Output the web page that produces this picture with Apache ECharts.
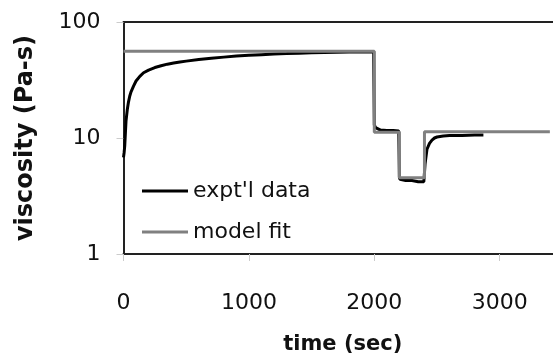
<!DOCTYPE html>
<html>
<head>
<meta charset="utf-8">
<script src="https://cdn.jsdelivr.net/npm/echarts@6/dist/echarts.min.js"></script>
<style>
html,body{margin:0;padding:0;background:#fff;}
#c{width:553px;height:360px;}
</style>
</head>
<body>
<div id="c"></div>
<script>
// Experimental data: time (sec) and viscosity (Pa-s)
var dataTime = [0, 5, 10, 15, 20, 30, 40, 50, 60, 80, 100, 130, 160, 200, 250, 300, 350, 400, 450, 500, 600, 700, 800, 900, 1000, 1100, 1200, 1300, 1400, 1500, 1600, 1700, 1800, 1900, 1995, 2000, 2005, 2010, 2020, 2050, 2100, 2150, 2195, 2200, 2205, 2210, 2250, 2300, 2350, 2395, 2400, 2405, 2420, 2440, 2460, 2480, 2500, 2550, 2600, 2700, 2800, 2870];
var dataVisc = [6.8, 7.5, 8.6, 11, 14, 17.5, 20.5, 23, 25, 28, 31, 34, 36.5, 38.5, 40.5, 42, 43.3, 44.3, 45.2, 46, 47.4, 48.6, 49.8, 50.8, 51.6, 52.3, 53, 53.4, 53.9, 54.2, 54.5, 54.8, 55, 55.2, 55.3, 13, 12.8, 12.3, 12, 11.7, 11.6, 11.6, 11.5, 4.6, 4.4, 4.35, 4.3, 4.3, 4.2, 4.2, 4.2, 6, 8, 9, 9.6, 10, 10.2, 10.4, 10.5, 10.5, 10.6, 10.6];
// Model fit
var fitTime = [0, 2000, 2000, 2200, 2200, 2400, 2400, 3400];
var fitVisc = [56, 56, 11.2, 11.2, 4.55, 4.55, 11.3, 11.3];
// Axis ticks
var xTicks = [0, 1000, 2000, 3000];
var seriesNames = ["expt'l data", "model fit"];

function pairs(xs, ys) { return xs.map(function (x, i) { return [x, ys[i]]; }); }

var font = 'DejaVu Sans';
var chart = echarts.init(document.getElementById('c'));
chart.setOption({
  animation: false,
  backgroundColor: '#fff',
  grid: { left: 123.5, top: 22, bottom: 105, right: 0 },
  legend: {
    orient: 'vertical',
    left: 137, top: 175,
    itemWidth: 46, itemHeight: 3, itemGap: 19,
    icon: 'rect',
    textStyle: { fontFamily: font, fontSize: 22, color: '#111' },
    data: seriesNames
  },
  xAxis: [{
    type: 'value', min: 0, max: 3425, interval: 1000,
    name: 'time (sec)', nameLocation: 'middle', nameGap: 80,
    nameTextStyle: { fontFamily: font, fontSize: 21, fontWeight: 'bold', color: '#111', padding: [0, 0, 0, 9] },
    axisLine: { show: true, lineStyle: { color: '#222', width: 2 } },
    axisTick: { show: true, length: 7, lineStyle: { color: '#ccc', width: 1 }, customValues: xTicks },
    axisLabel: { margin: 38, fontFamily: font, fontSize: 22, color: '#111', customValues: xTicks,
      formatter: function (v) { return String(v); } },
    splitLine: { show: false }
  }, {
    type: 'value', min: 0, max: 3425, position: 'top',
    axisLine: { show: true, lineStyle: { color: '#222', width: 2 } },
    axisTick: { show: false }, axisLabel: { show: false }, splitLine: { show: false }
  }],
  yAxis: {
    type: 'log', logBase: 10, min: 1, max: 100,
    name: 'viscosity (Pa-s)', nameLocation: 'middle', nameGap: 86,
    nameTextStyle: { fontFamily: font, fontSize: 24, fontWeight: 'bold', color: '#111' },
    axisLine: { show: true, lineStyle: { color: '#222', width: 2 } },
    axisTick: { show: true, length: 7, lineStyle: { color: '#ccc', width: 1 } },
    axisLabel: { margin: 23, fontFamily: font, fontSize: 22, color: '#111',
      formatter: function (v) { return String(v); } },
    minorTick: { show: false },
    splitLine: { show: false }
  },
  series: [
    {
      name: seriesNames[0], type: 'line', data: pairs(dataTime, dataVisc),
      showSymbol: false, symbol: 'none',
      lineStyle: { color: '#000', width: 3 }, itemStyle: { color: '#000' }, z: 2
    },
    {
      name: seriesNames[1], type: 'line', data: pairs(fitTime, fitVisc),
      showSymbol: false, symbol: 'none',
      lineStyle: { color: '#808080', width: 3 }, itemStyle: { color: '#808080' }, z: 3
    }
  ]
});
</script>
</body>
</html>
